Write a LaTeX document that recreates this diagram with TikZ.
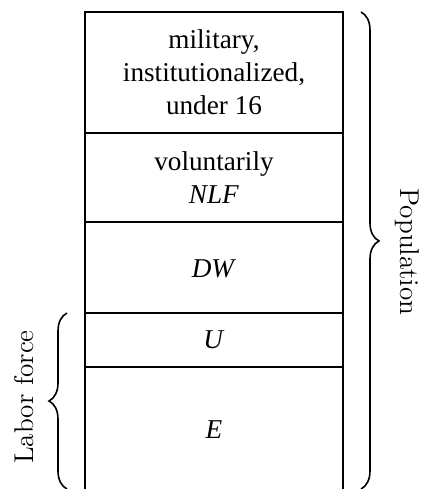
\documentclass[tikz,border=0pt]{standalone}
\usepackage{fontspec}
\newfontfamily\partfont{Liberation Serif}
\usetikzlibrary{decorations.pathreplacing}
\tikzset{
  part/.style={font=\partfont\fontsize{13.6}{16.5}\selectfont, align=center},
  side/.style={font=\fontsize{13.6}{16}\selectfont},
  curly/.style={decorate, decoration={brace, amplitude=9pt}, line width=0.8pt},
}
\begin{document}
\begin{tikzpicture}[x=0.5pt,y=-0.5pt]
\useasboundingbox (0,0) rectangle (423,489);
\draw[line width=1pt] (85,489) -- (85,12) -- (343,12) -- (343,489);
\foreach \y in {133,222,313,367}
  \draw[line width=1.4pt] (85,\y) -- (343,\y);
\node[part] (mil) at (214,72) {military,\\institutionalized,\\under 16};
\node[part] (nlf) at (214,178) {voluntarily\\\textit{NLF}};
\node[part] (dw) at (214,269) {\textit{DW}};
\node[part] (u) at (214,340) {\textit{U}};
\node[part] (e) at (214,430) {\textit{E}};
\draw[curly, decoration={aspect=0.48}] (361,12) -- (361,489);
\node[side, rotate=-90] (pop) at (407,252) {Population};
\draw[curly] (67,489) -- (67,313);
\node[side, rotate=90] (lab) at (24,397) {Labor force};
\end{tikzpicture}
\end{document}
